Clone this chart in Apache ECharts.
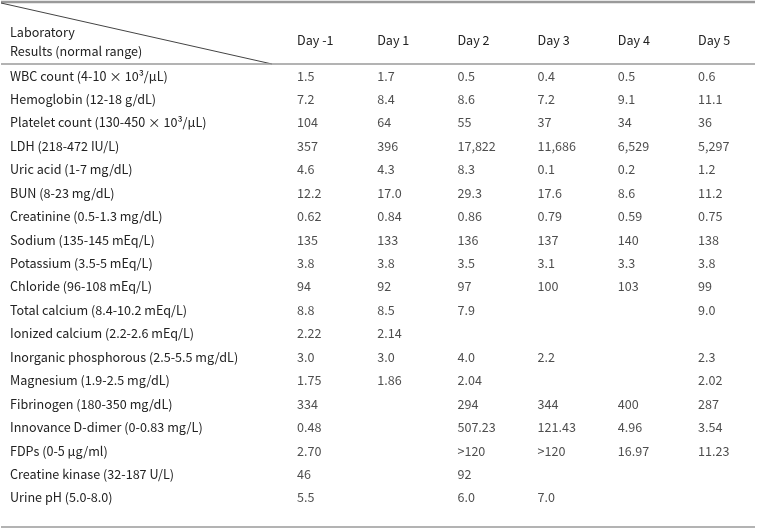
<!DOCTYPE html>
<html>
<head>
<meta charset="utf-8">
<script src="https://cdn.jsdelivr.net/npm/echarts@6/dist/echarts.min.js"></script>
<style>html,body{margin:0;padding:0;background:#fff}#c{width:757px;height:531px}</style>
</head>
<body>
<div id="c"></div>
<script>
const rowLabels = [
  'WBC count (4-10 × 10³/μL)',
  'Hemoglobin (12-18 g/dL)',
  'Platelet count (130-450 × 10³/μL)',
  'LDH (218-472 IU/L)',
  'Uric acid (1-7 mg/dL)',
  'BUN (8-23 mg/dL)',
  'Creatinine (0.5-1.3 mg/dL)',
  'Sodium (135-145 mEq/L)',
  'Potassium (3.5-5 mEq/L)',
  'Chloride (96-108 mEq/L)',
  'Total calcium (8.4-10.2 mEq/L)',
  'Ionized calcium (2.2-2.6 mEq/L)',
  'Inorganic phosphorous (2.5-5.5 mg/dL)',
  'Magnesium (1.9-2.5 mg/dL)',
  'Fibrinogen (180-350 mg/dL)',
  'Innovance D-dimer (0-0.83 mg/L)',
  'FDPs (0-5 μg/ml)',
  'Creatine kinase (32-187 U/L)',
  'Urine pH (5.0-8.0)'
];
const days = ['Day -1', 'Day 1', 'Day 2', 'Day 3', 'Day 4', 'Day 5'];
const dayM1 = ['1.5','7.2','104','357','4.6','12.2','0.62','135','3.8','94','8.8','2.22','3.0','1.75','334','0.48','2.70','46','5.5'];
const day1  = ['1.7','8.4','64','396','4.3','17.0','0.84','133','3.8','92','8.5','2.14','3.0','1.86','','','','',''];
const day2  = ['0.5','8.6','55','17,822','8.3','29.3','0.86','136','3.5','97','7.9','','4.0','2.04','294','507.23','>120','92','6.0'];
const day3  = ['0.4','7.2','37','11,686','0.1','17.6','0.79','137','3.1','100','','','2.2','','344','121.43','>120','','7.0'];
const day4  = ['0.5','9.1','34','6,529','0.2','8.6','0.59','140','3.3','103','','','','','400','4.96','16.97','',''];
const day5  = ['0.6','11.1','36','5,297','1.2','11.2','0.75','138','3.8','99','9.0','','2.3','2.02','287','3.54','11.23','',''];
const headerText = 'Laboratory\nResults (normal range)';

const columns = [dayM1, day1, day2, day3, day4, day5];
const cells = [];
columns.forEach((col, ci) => {
  col.forEach((v, ri) => { if (v !== '') cells.push([ci, ri, v]); });
});

const FONT = '"Noto Sans CJK KR", "Noto Sans", sans-serif';
const TXT = '#222';
const FS = 12.6;
const chart = echarts.init(document.getElementById('c'), null, {renderer: 'canvas'});
chart.setOption({
  animation: false,
  backgroundColor: '#fff',
  textStyle: {fontFamily: FONT},
  title: {
    text: headerText,
    left: 10, top: 23, padding: 0,
    textStyle: {fontFamily: FONT, fontSize: FS, fontWeight: 'normal', color: TXT, lineHeight: 19}
  },
  grid: {left: 297, right: 59, top: 64, bottom: 21.6},
  xAxis: {
    type: 'category', data: days, position: 'top', boundaryGap: false,
    axisLine: {show: false}, axisTick: {show: false}, splitLine: {show: false},
    axisLabel: {align: 'left', verticalAlign: 'middle', margin: 24, fontSize: FS, color: TXT, fontFamily: FONT}
  },
  yAxis: {
    type: 'category', data: rowLabels, inverse: true,
    axisLine: {show: false}, axisTick: {show: false}, splitLine: {show: false},
    axisLabel: {align: 'left', margin: 287, fontSize: FS, color: TXT, fontFamily: FONT}
  },
  series: [{
    type: 'scatter', data: cells, symbolSize: 0, silent: true,
    label: {show: true, position: 'right', distance: 0, fontSize: FS, color: TXT, fontFamily: FONT,
      formatter: p => p.value[2]}
  }],
  graphic: [
    {type: 'line', shape: {x1: 1, y1: 2, x2: 755, y2: 2}, style: {stroke: '#9a9a9a', lineWidth: 2.5}},
    {type: 'line', shape: {x1: 1, y1: 3, x2: 272, y2: 64}, style: {stroke: '#444', lineWidth: 1}},
    {type: 'line', shape: {x1: 1, y1: 64, x2: 755, y2: 64}, style: {stroke: '#9a9a9a', lineWidth: 1.5}},
    {type: 'line', shape: {x1: 1, y1: 527, x2: 755, y2: 527}, style: {stroke: '#9a9a9a', lineWidth: 1.5}}
  ]
});
</script>
</body>
</html>
